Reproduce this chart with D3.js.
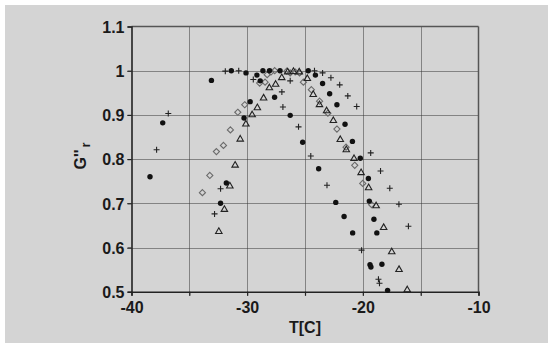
<!DOCTYPE html>
<html><head><meta charset="utf-8">
<script src="https://cdn.jsdelivr.net/npm/d3@7"></script>
<style>body{margin:0;background:#fff}svg{display:block}</style>
</head><body>
<svg id="c" width="553" height="348"></svg>
<script>
const xTicks = [-40,-35,-30,-25,-20,-15,-10];
const xLabels = ["-40","","-30","","-20","","-10"];
const yTicks = [0.5,0.6,0.7,0.8,0.9,1.0,1.1];
const yLabels = ["0.5","0.6","0.7","0.8","0.9","1","1.1"];
const xTitle = "T[C]";

const dotT = [-38.4,-37.3,-33.09,-31.37,-30.1,-29.16,-28.87,-28.64,-28.07,-27.16,-27.63,-29.74,-30.27,-26.28,-25.2,-24.72,-24.1,-23.82,-23.48,-22.87,-22.24,-21.54,-20.9,-20.22,-19.52,-19.44,-19.04,-18.79,-19.38,-19.3,-18.35,-17.86,-22.34,-21.62,-20.88,-31.8,-32.3];
const dotG = [0.760,0.882,0.978,1.0,0.995,0.990,0.977,1.0,1.0,1.0,0.940,0.930,0.893,0.899,0.838,1.0,0.990,0.778,0.971,0.948,0.923,0.879,0.840,0.802,0.756,0.705,0.664,0.633,0.561,0.556,0.562,0.503,0.702,0.670,0.633,0.746,0.700];

const plusT = [-37.83,-36.82,-31.89,-30.73,-29.47,-32.3,-32.82,-27.0,-26.28,-26.91,-25.56,-24.5,-24.18,-23.48,-22.76,-23.1,-22.0,-21.3,-20.53,-20.11,-19.32,-18.47,-17.67,-16.88,-16.06,-18.65,-18.56];
const plusG = [0.821,0.903,0.999,1.0,0.980,0.733,0.676,0.952,0.977,0.918,0.873,0.807,1.0,0.995,0.984,0.741,0.968,0.943,0.919,0.594,0.814,0.773,0.734,0.698,0.648,0.528,0.519];

const diaT = [-33.87,-33.23,-32.66,-32.05,-31.45,-30.81,-30.21,-28.92,-28.45,-28.27,-27.94,-27.62,-26.57,-26.28,-25.85,-25.47,-25.14,-24.45,-23.74,-23.02,-22.24,-21.45,-20.7,-20.01,-19.24];
const diaG = [0.724,0.763,0.817,0.831,0.866,0.906,0.923,0.972,0.974,0.991,0.997,1.0,0.999,0.995,0.997,0.995,0.974,0.957,0.931,0.904,0.868,0.827,0.786,0.745,0.697];

const triT = [-32.45,-31.97,-31.5,-31.04,-30.6,-30.11,-29.57,-29.12,-28.58,-28.08,-27.54,-27.01,-26.5,-26.0,-25.5,-24.8,-24.29,-23.75,-23.13,-22.55,-21.95,-21.43,-20.76,-20.15,-19.5,-18.85,-18.2,-17.5,-16.87,-16.16];
const triG = [0.636,0.686,0.739,0.786,0.845,0.879,0.900,0.916,0.938,0.961,0.969,0.984,0.997,0.998,0.997,0.982,0.946,0.923,0.909,0.887,0.844,0.821,0.801,0.769,0.735,0.694,0.645,0.590,0.550,0.504];

const svg = d3.select("#c");
const L = 131.5, R = 478.5, T = 26.5, B = 291.7;
const x = d3.scaleLinear().domain([-40,-10]).range([L,R]);
const y = d3.scaleLinear().domain([0.5,1.1]).range([B,T]);

svg.append("rect").attr("x",5).attr("y",5).attr("width",543).attr("height",338).attr("fill","#d4d4d4");

// gridlines
const g = svg.append("g");
g.selectAll(".vg").data(xTicks.slice(1,-1)).enter().append("line")
  .attr("x1",d=>Math.round(x(d))+0.5).attr("x2",d=>Math.round(x(d))+0.5).attr("y1",T).attr("y2",B+4)
  .attr("stroke","#333").attr("stroke-width",1).attr("stroke-dasharray","1,1");
g.selectAll(".hg").data(yTicks.slice(1,-1)).enter().append("line")
  .attr("y1",d=>Math.round(y(d))+0.5).attr("y2",d=>Math.round(y(d))+0.5).attr("x1",L-4).attr("x2",R)
  .attr("stroke","#333").attr("stroke-width",1).attr("stroke-dasharray","1,1");

// frame top/right
svg.append("line").attr("x1",L).attr("x2",R).attr("y1",T).attr("y2",T).attr("stroke","#555").attr("stroke-width",1.5);
svg.append("line").attr("x1",R).attr("x2",R).attr("y1",T).attr("y2",B).attr("stroke","#555").attr("stroke-width",1.5);

// axes
const xAxis = d3.axisBottom(x).tickValues(xTicks).tickSize(4).tickPadding(6)
  .tickFormat((d,i)=>xLabels[i]);
const yAxis = d3.axisLeft(y).tickValues(yTicks).tickSize(4).tickPadding(3)
  .tickFormat((d,i)=>yLabels[i]);
const gx = svg.append("g").attr("transform",`translate(0,${B})`).call(xAxis);
const gy = svg.append("g").attr("transform",`translate(${L},0)`).call(yAxis);
[gx,gy].forEach(a=>{
  a.select(".domain").attr("stroke","#222").attr("stroke-width",1.6);
  a.selectAll(".tick line").attr("stroke","#222").attr("stroke-width",1.2);
  a.selectAll("text").attr("fill","#1a1a1a").attr("font-family","Liberation Sans, Arial, sans-serif")
    .attr("font-size",16).attr("font-weight","bold");
});
gy.selectAll(".tick text").attr("dy","0.36em");

// titles
svg.append("text").attr("x",(L+R)/2).attr("y",333).attr("text-anchor","middle")
  .attr("font-family","Liberation Sans, Arial, sans-serif").attr("font-size",16).attr("font-weight","bold")
  .attr("fill","#1a1a1a").text(xTitle);
const yt = svg.append("text").attr("transform",`translate(86,156) rotate(-90)`).attr("text-anchor","middle")
  .attr("font-family","Liberation Sans, Arial, sans-serif").attr("font-size",16).attr("font-weight","bold")
  .attr("fill","#1a1a1a");
yt.append("tspan").text("G''");
yt.append("tspan").attr("dx",2).attr("dy",4).attr("font-size",13).text("r");

// markers
const dots = dotT.map((t,i)=>[t,dotG[i]]);
const plus = plusT.map((t,i)=>[t,plusG[i]]);
const dia = diaT.map((t,i)=>[t,diaG[i]]);
const tri = triT.map((t,i)=>[t,triG[i]]);

const m = svg.append("g");
m.selectAll(".dia").data(dia).enter().append("path")
  .attr("d",d3.symbol(d3.symbolDiamond2,24)())
  .attr("transform",d=>`translate(${x(d[0])},${y(d[1])})`)
  .attr("fill","none").attr("stroke","#6a6a6a").attr("stroke-width",1.1);
m.selectAll(".tri").data(tri).enter().append("path")
  .attr("d",d3.symbol(d3.symbolTriangle2,30)())
  .attr("transform",d=>`translate(${x(d[0])},${y(d[1])})`)
  .attr("fill","none").attr("stroke","#222").attr("stroke-width",1.1);
m.selectAll(".plus").data(plus).enter().append("path")
  .attr("d","M-3,0H3M0,-3V3")
  .attr("transform",d=>`translate(${x(d[0])},${y(d[1])})`)
  .attr("fill","none").attr("stroke","#222").attr("stroke-width",1.1);
m.selectAll(".dot").data(dots).enter().append("circle")
  .attr("cx",d=>x(d[0])).attr("cy",d=>y(d[1])).attr("r",2.7).attr("fill","#111");
</script>
</body></html>
